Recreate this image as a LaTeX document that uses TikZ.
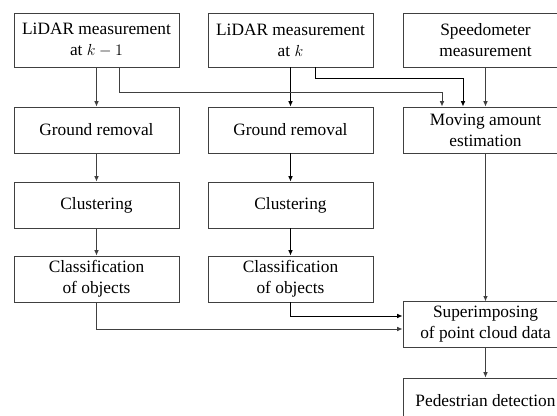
\documentclass[tikz,border=0pt]{standalone}
\usepackage{fontspec}
\setmainfont{Liberation Serif}
\usetikzlibrary{arrows.meta,calc}

\tikzset{
  stage/.style={draw=black!75, line width=0.7pt, minimum width=123.75pt, inner sep=0pt,
    align=center, font=\fontsize{13}{15.75}\selectfont},
  flow/.style={draw=black!75, line width=0.7pt, -{Latex[length=4pt,width=3.5pt]}},
  flowdark/.style={flow, draw=black}
}

\begin{document}
\begin{tikzpicture}[x=0.75pt,y=-0.75pt]
        \useasboundingbox (0,0) rectangle (557,416);
        \clip (0,0) rectangle (557,416);
        % first row: inputs
        \node[stage, minimum height=40.5pt] (lidarA) at (96.5,40) {LiDAR measurement\\at $k-1$};
        \node[stage, minimum height=40.5pt] (lidarB) at (290.5,40) {LiDAR measurement\\at $k$};
        \node[stage, minimum height=40.5pt] (speed) at (485.5,40) {Speedometer\\measurement};
        % processing chains
        \node[stage, minimum height=34.5pt] (groundA) at (96.5,130) {Ground removal};
        \node[stage, minimum height=34.5pt] (groundB) at (290.5,130) {Ground removal};
        \node[stage, minimum height=34.5pt] (moving) at (485.5,130) {Moving amount\\estimation};
        \node[stage, minimum height=34.5pt] (clusterA) at (96.5,205) {Clustering};
        \node[stage, minimum height=34.5pt] (clusterB) at (290.5,205) {Clustering};
        \node[stage, minimum height=34.5pt] (classA) at (96.5,279) {Classification\\of objects};
        \node[stage, minimum height=34.5pt] (classB) at (290.5,279) {Classification\\of objects};
        \node[stage, minimum height=34pt] (superimp) at (485.5,324.5) {Superimposing\\of point cloud data};
        \node[stage, minimum height=34.5pt] (pedestrian) at (485.5,401) {Pedestrian detection};

        \draw[flow] (lidarA) -- (groundA);
        \draw[flow] (groundA) -- (clusterA);
        \draw[flow] (clusterA) -- (classA);
        \draw[flowdark] (lidarB) -- (groundB);
        \draw[flowdark] (groundB) -- (clusterB);
        \draw[flowdark] (clusterB) -- (classB);
        \draw[flow] ($(lidarA.south)+(22.5,0)$) -- ++(0,25) -| ($(moving.north)+(-43.5,0)$);
        \draw[flowdark] ($(lidarB.south)+(24.5,0)$) -- ++(0,11) -| ($(moving.north)+(-22.5,0)$);
        \draw[flow] (speed) -- (moving);
        \draw[flow] (moving) -- (superimp);
        \draw[flowdark] (classB.south) |- ($(superimp.west)+(0,-8.5)$);
        \draw[flow] (classA.south) |- ($(superimp.west)+(0,4.5)$);
        \draw[flow] (superimp) -- (pedestrian);
\end{tikzpicture}
\end{document}
